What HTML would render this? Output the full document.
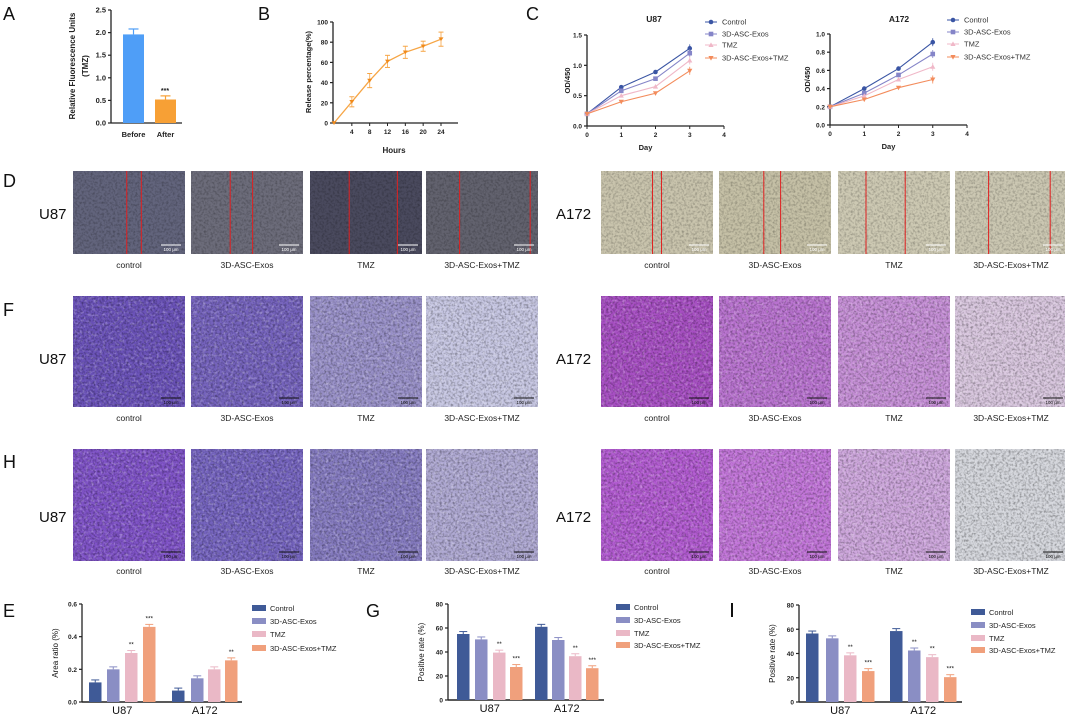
<!DOCTYPE html>
<html><head><meta charset="utf-8"><style>
html,body{margin:0;padding:0;background:#fff}
svg{display:block;font-family:"Liberation Sans",Arial,sans-serif}
</style></head><body>
<svg id="fig" width="1065" height="716" viewBox="0 0 1065 716" xmlns="http://www.w3.org/2000/svg">
<defs>
<filter id="noise" x="0" y="0" width="100%" height="100%">
<feTurbulence type="fractalNoise" baseFrequency="0.45" numOctaves="2" seed="3"/>
<feColorMatrix type="matrix" values="0 0 0 0 0  0 0 0 0 0  0 0 0 0 0  0 0 0 -2.2 1.3"/>
</filter>
<filter id="noiseW" x="0" y="0" width="100%" height="100%">
<feTurbulence type="fractalNoise" baseFrequency="0.35" numOctaves="2" seed="8"/>
<feColorMatrix type="matrix" values="0 0 0 0 1  0 0 0 0 1  0 0 0 0 1  0 0 0 -2.4 1.2"/>
</filter>
</defs>
</svg>
<script>
const NS='http://www.w3.org/2000/svg';
const svg=document.getElementById('fig');
function mk(tag,attrs,parent,txt){const e=document.createElementNS(NS,tag);for(const k in attrs)e.setAttribute(k,attrs[k]);if(txt!==undefined)e.textContent=txt;(parent||svg).appendChild(e);return e;}
function txt(x,y,s,size,opts,parent){opts=opts||{};const e=mk('text',{x:x,y:y,'font-size':size,'text-anchor':opts.anchor||'start','font-weight':opts.bold?'bold':'normal',fill:opts.fill||'#222'},parent,s);if(opts.rot)e.setAttribute('transform','rotate(-90 '+x+' '+y+')');return e;}

// ---------- Data ----------
const aCats=['Before','After'];
const aVals=[1.96,0.52];
const aErr=[0.12,0.08];
const aTicks=[0,0.5,1.0,1.5,2.0,2.5];

const bHours=[0,4,8,12,16,20,24];
const bVals=[0,21,42,61,70,76,83];
const bErr=[0,5,7,6,6,5,7];
const bTicks=[0,20,40,60,80,100];

const cSeries=['Control','3D-ASC-Exos','TMZ','3D-ASC-Exos+TMZ'];
const cDays=[0,1,2,3];
const cU87Control=[0.2,0.64,0.89,1.28];
const cU87Exos=[0.2,0.58,0.78,1.2];
const cU87TMZ=[0.2,0.5,0.65,1.08];
const cU87Combo=[0.2,0.4,0.54,0.91];
const cA172Control=[0.2,0.4,0.62,0.91];
const cA172Exos=[0.2,0.35,0.55,0.78];
const cA172TMZ=[0.2,0.32,0.5,0.64];
const cA172Combo=[0.2,0.28,0.41,0.5];
const cU87Ticks=[0,0.5,1.0,1.5];
const cA172Ticks=[0,0.2,0.4,0.6,0.8,1.0];
const cXTicks=[0,1,2,3,4];

const barGroups=['U87','A172'];
const eU87=[0.12,0.20,0.30,0.46];
const eA172=[0.07,0.145,0.20,0.255];
const eSig=[['','','**','***'],['','','','**']];
const eTicks=[0,0.2,0.4,0.6];
const gU87=[55,50.5,39.5,27.5];
const gA172=[61,50,36.5,26.5];
const gSig=[['','','**','***'],['','','**','***']];
const iU87=[56.5,52.5,38.5,25.5];
const iA172=[58.5,42.5,37,20.5];
const iSig=[['','','**','***'],['','**','**','***']];
const pTicks=[0,20,40,60,80];
const imgLabels=['control','3D-ASC-Exos','TMZ','3D-ASC-Exos+TMZ'];

const lineColors=['#3a55a4','#8585c8','#f0b8c8','#f38c5c'];
const barColors=['#3f5a97','#8a8ec4','#eab8c6','#f0a07c'];

function lin(d0,d1,r0,r1){return v=>r0+(v-d0)/(d1-d0)*(r1-r0);}

// ---------- Panel letters ----------
[['A',3,20],['B',258,20],['C',526,20],['D',3,187],['F',3,316],['H',3,468],['E',3,617],['G',366,617]].forEach(p=>{
 const t=txt(p[1],p[2],p[0],18,{fill:'#111'});
 
 
});
const iBar=mk('rect',{x:731,y:603,width:2,height:14,fill:'#111'});



function yAxis(g,x,ys,ticks,fmt,size){
 mk('line',{x1:x,y1:ys(ticks[0]),x2:x,y2:ys(ticks[ticks.length-1]),stroke:'#222','stroke-width':1.3},g);
 ticks.forEach(t=>{mk('line',{x1:x-3,y1:ys(t),x2:x,y2:ys(t),stroke:'#222','stroke-width':1.2},g);
  txt(x-5,ys(t)+2.5,fmt(t),size||7,{anchor:'end',bold:true},g);});
}

// ---------- Panel A ----------
(function(){
 const g=mk('g',{});  
 const ys=lin(0,2.5,123,10);
 yAxis(g,111,ys,aTicks,t=>t.toFixed(1),7.5);
 mk('line',{x1:111,y1:123,x2:182,y2:123,stroke:'#222','stroke-width':1.3},g);
 const xs=[123,155], cols=['#4f9ef7','#f7a035'];
 aVals.forEach((v,i)=>{
  const b=mk('rect',{x:xs[i],y:ys(v),width:21,height:123-ys(v),fill:cols[i]},g);
   
  const cx=xs[i]+10.5;
  mk('line',{x1:cx,y1:ys(v),x2:cx,y2:ys(v+aErr[i]),stroke:cols[i],'stroke-width':1.2},g);
  mk('line',{x1:cx-5,y1:ys(v+aErr[i]),x2:cx+5,y2:ys(v+aErr[i]),stroke:cols[i],'stroke-width':1.2},g);
  txt(cx,137,aCats[i],7.5,{anchor:'middle',bold:true},g);
 });
 txt(165,ys(aVals[1]+aErr[1])-3,'***',7,{anchor:'middle',bold:true},g);
 txt(75,66,'Relative Fluorescence Units',8,{anchor:'middle',bold:true,rot:true},g);
 txt(88,66,'(TMZ)',8,{anchor:'middle',bold:true,rot:true},g);
})();

// ---------- Panel B ----------
(function(){
 const g=mk('g',{});  
 const ys=lin(0,100,123,22), xs=lin(0,24,334,441);
 yAxis(g,333,ys,bTicks,t=>String(t),6.5);
 mk('line',{x1:333,y1:123,x2:458,y2:123,stroke:'#222','stroke-width':1.3},g);
 [4,8,12,16,20,24].forEach(t=>{mk('line',{x1:xs(t),y1:123,x2:xs(t),y2:126,stroke:'#222'},g);txt(xs(t),134,String(t),6.5,{anchor:'middle',bold:true},g);});
 const c='#f6a545';
 mk('polyline',{points:bHours.map((h,i)=>xs(h)+','+ys(bVals[i])).join(' '),fill:'none',stroke:c,'stroke-width':1.3},g);
 bHours.forEach((h,i)=>{
  const x=xs(h);
  if(bErr[i]){mk('line',{x1:x,y1:ys(bVals[i]-bErr[i]),x2:x,y2:ys(bVals[i]+bErr[i]),stroke:c,'stroke-width':1,opacity:0.8},g);
  [bVals[i]-bErr[i],bVals[i]+bErr[i]].forEach(v=>mk('line',{x1:x-2.5,y1:ys(v),x2:x+2.5,y2:ys(v),stroke:c,'stroke-width':1},g));}
  const p=mk('path',{d:`M${x-2.5},${ys(bVals[i])-1.8} L${x+2.5},${ys(bVals[i])-1.8} L${x},${ys(bVals[i])+2}Z`,fill:'#f08a1a'},g);
   
 });
 txt(394,153,'Hours',8,{anchor:'middle',bold:true},g);
 txt(311,72,'Release percentage(%)',7.5,{anchor:'middle',bold:true,rot:true},g);
})();

// ---------- Panel C ----------
function marker(g,shape,x,y,c){
 if(shape===0) return mk('circle',{cx:x,cy:y,r:2.3,fill:c},g);
 if(shape===1) return mk('rect',{x:x-2.3,y:y-2.3,width:4.6,height:4.6,fill:c},g);
 if(shape===2) return mk('path',{d:`M${x},${y-2.6} L${x+2.6},${y+2} L${x-2.6},${y+2}Z`,fill:c},g);
 return mk('path',{d:`M${x-2.6},${y-2} L${x+2.6},${y-2} L${x},${y+2.6}Z`,fill:c},g);
}
function growth(name,title,ax,y0,yTop,tMax,ticks,x4,series,titleX,legX,legY,labX){
 const g=mk('g',{});  
 const ys=lin(0,tMax,y0,yTop), xs=lin(0,4,ax,x4);
 yAxis(g,ax,ys,ticks,t=>t.toFixed(1),6.5);
 mk('line',{x1:ax,y1:y0,x2:x4,y2:y0,stroke:'#222','stroke-width':1.3},g);
 cXTicks.forEach(t=>{mk('line',{x1:xs(t),y1:y0,x2:xs(t),y2:y0+3,stroke:'#222'},g);txt(xs(t),y0+11,String(t),6.5,{anchor:'middle',bold:true},g);});
 series.forEach((s,si)=>{
  const c=lineColors[si];
  mk('polyline',{points:cDays.map((d,i)=>xs(d)+','+ys(s[i])).join(' '),fill:'none',stroke:c,'stroke-width':1.1},g);
  cDays.forEach((d,i)=>{const m=marker(g,si,xs(d),ys(s[i]),c);
    
   if(i===3){mk('line',{x1:xs(d),y1:ys(s[i])-4,x2:xs(d),y2:ys(s[i])+4,stroke:c,'stroke-width':0.8},g);}});
 });
 txt(titleX,22,title,8.5,{anchor:'middle',bold:true},g);
 txt((ax+x4)/2-10,y0+24,'Day',7.5,{anchor:'middle',bold:true},g);
 txt(labX,(y0+yTop)/2,'OD/450',7.5,{anchor:'middle',bold:true,rot:true},g);
 cSeries.forEach((s,i)=>{const y=legY[i];
  const lg=mk('g',{},g);  
  mk('line',{x1:legX-6,y1:y,x2:legX+6,y2:y,stroke:lineColors[i],'stroke-width':1},lg);
  marker(lg,i,legX,y,lineColors[i]);
  txt(legX+11,y+2.5,s,7.5,{fill:'#333'},lg);});
}
growth('panel-c-u87-chart','U87',587,126,35,1.5,cU87Ticks,724,[cU87Control,cU87Exos,cU87TMZ,cU87Combo],654,711,[22,34,45,58],570);
growth('panel-c-a172-chart','A172',830,125,34,1.0,cA172Ticks,967,[cA172Control,cA172Exos,cA172TMZ,cA172Combo],899,953,[20,32,44,57],810);

// ---------- Image panels ----------
const leftX=[73,191,310,426], rightX=[601,719,838,955];
const rowsDef=[
 {key:'d',y:171,h:83,label:264,ty:213,
  left:['#62647c','#6c6c7a','#4a4a5e','#62626e'],right:['#c9c4ad','#c5c0a6','#cdc9b3','#cbc7b2'],
  redL:[[0.48,0.61],[0.35,0.55],[0.35,0.78],[0.3,0.93]],redR:[[0.46,0.54],[0.4,0.55],[0.25,0.6],[0.3,0.85]]},
 {key:'f',y:296,h:111,label:417,ty:358,left:['#6a52b8','#7462bc','#9890c8','#c6c6e2'],right:['#a64ec2','#b872cf','#c58ed6','#d8c6de']},
 {key:'h',y:449,h:112,label:570,ty:516,left:['#7e52c6','#7463be','#847abf','#aea8d2'],right:['#b15ad0','#c174d8','#cda6dc','#d4d6dc']}
];
rowsDef.forEach(r=>{
 [['u87',leftX,r.left,r.redL,39],['a172',rightX,r.right,r.redR,556]].forEach(side=>{
  const t=txt(side[4],r.ty+6,side[0].toUpperCase(),15,{fill:'#111'});
   
  side[1].forEach((x,i)=>{
   const g=mk('g',{});  
   mk('rect',{x:x,y:r.y,width:112,height:r.h,fill:side[2][i]},g);
   mk('rect',{x:x,y:r.y,width:112,height:r.h,fill:'#000',filter:'url(#noise)',opacity:r.key==='d'?0.25:0.35},g);
   if(r.key!=='d') mk('rect',{x:x,y:r.y,width:112,height:r.h,fill:'#fff',filter:'url(#noiseW)',opacity:0.35},g);
   if(side[3]) side[3][i].forEach(f=>mk('line',{x1:x+112*f,y1:r.y,x2:x+112*f,y2:r.y+r.h,stroke:'#e02020','stroke-width':1},g));
   const sc=r.key==='d'?'#fff':'#111';
   mk('line',{x1:x+88,y1:r.y+r.h-9,x2:x+108,y2:r.y+r.h-9,stroke:sc,'stroke-width':1},g);
   txt(x+98,r.y+r.h-3,'100 μm',4.5,{anchor:'middle',fill:sc},g);
   txt(x+56,r.label+4,imgLabels[i],8.5,{anchor:'middle',fill:'#222'});
  });
 });
});

// ---------- Bar charts E, G, I ----------
function barChart(name,ax,y0,yTop,tMax,ticks,xEnd,groups,sig,starts,w,legX,legY,ylabel,labX){
 const g=mk('g',{});  
 const ys=lin(0,tMax,y0,yTop);
 yAxis(g,ax,ys,ticks,t=>tMax<1?t.toFixed(1):String(t),6.5);
 mk('line',{x1:ax,y1:y0,x2:xEnd,y2:y0,stroke:'#222','stroke-width':1.5},g);
 groups.forEach((vals,gi)=>{
  vals.forEach((v,i)=>{const x=starts[gi][i];
   const b=mk('rect',{x:x,y:ys(v),width:w,height:y0-ys(v),fill:barColors[i]},g);
    
   const e=ys(v)-(y0-yTop)*0.015-1;
   mk('line',{x1:x+w/2,y1:ys(v),x2:x+w/2,y2:e,stroke:barColors[i],'stroke-width':1},g);
   mk('line',{x1:x+w/2-4,y1:e,x2:x+w/2+4,y2:e,stroke:barColors[i],'stroke-width':1},g);
   if(sig[gi][i]) txt(x+w/2,e-4,sig[gi][i],6.5,{anchor:'middle',fill:'#111'},g);
  });
  const mid=(starts[gi][0]+starts[gi][3]+w)/2;
  txt(mid,y0+12,barGroups[gi],11,{anchor:'middle',fill:'#111'},g);
 });
 txt(labX,(y0+yTop)/2,ylabel,8,{anchor:'middle',rot:true,fill:'#111'},g);
 cSeries.forEach((s,i)=>{const lg=mk('g',{},g);  
  mk('rect',{x:legX,y:legY[i]-3,width:14,height:6,fill:barColors[i]},lg);
  txt(legX+18,legY[i]+3,s,7.5,{fill:'#222'},lg);});
}
barChart('panel-e-chart',82,702,604,0.6,eTicks,242,[eU87,eA172],eSig,[[89,107,125,143],[172,191,208,225]],12.5,252,[608,621,634,648],'Area ratio (%)',58);
barChart('panel-g-chart',448,700,604,80,pTicks,604,[gU87,gA172],gSig,[[457,475,493,510],[535,552,569,586]],12.5,616,[607,620,633,645],'Positive rate (%)',424);
barChart('panel-i-chart',799,702,605,80,pTicks,962,[iU87,iA172],iSig,[[806,826,844,862],[890,908,926,944]],12.5,971,[612,625,638,650],'Positive rate (%)',775);
</script>
</body></html>
